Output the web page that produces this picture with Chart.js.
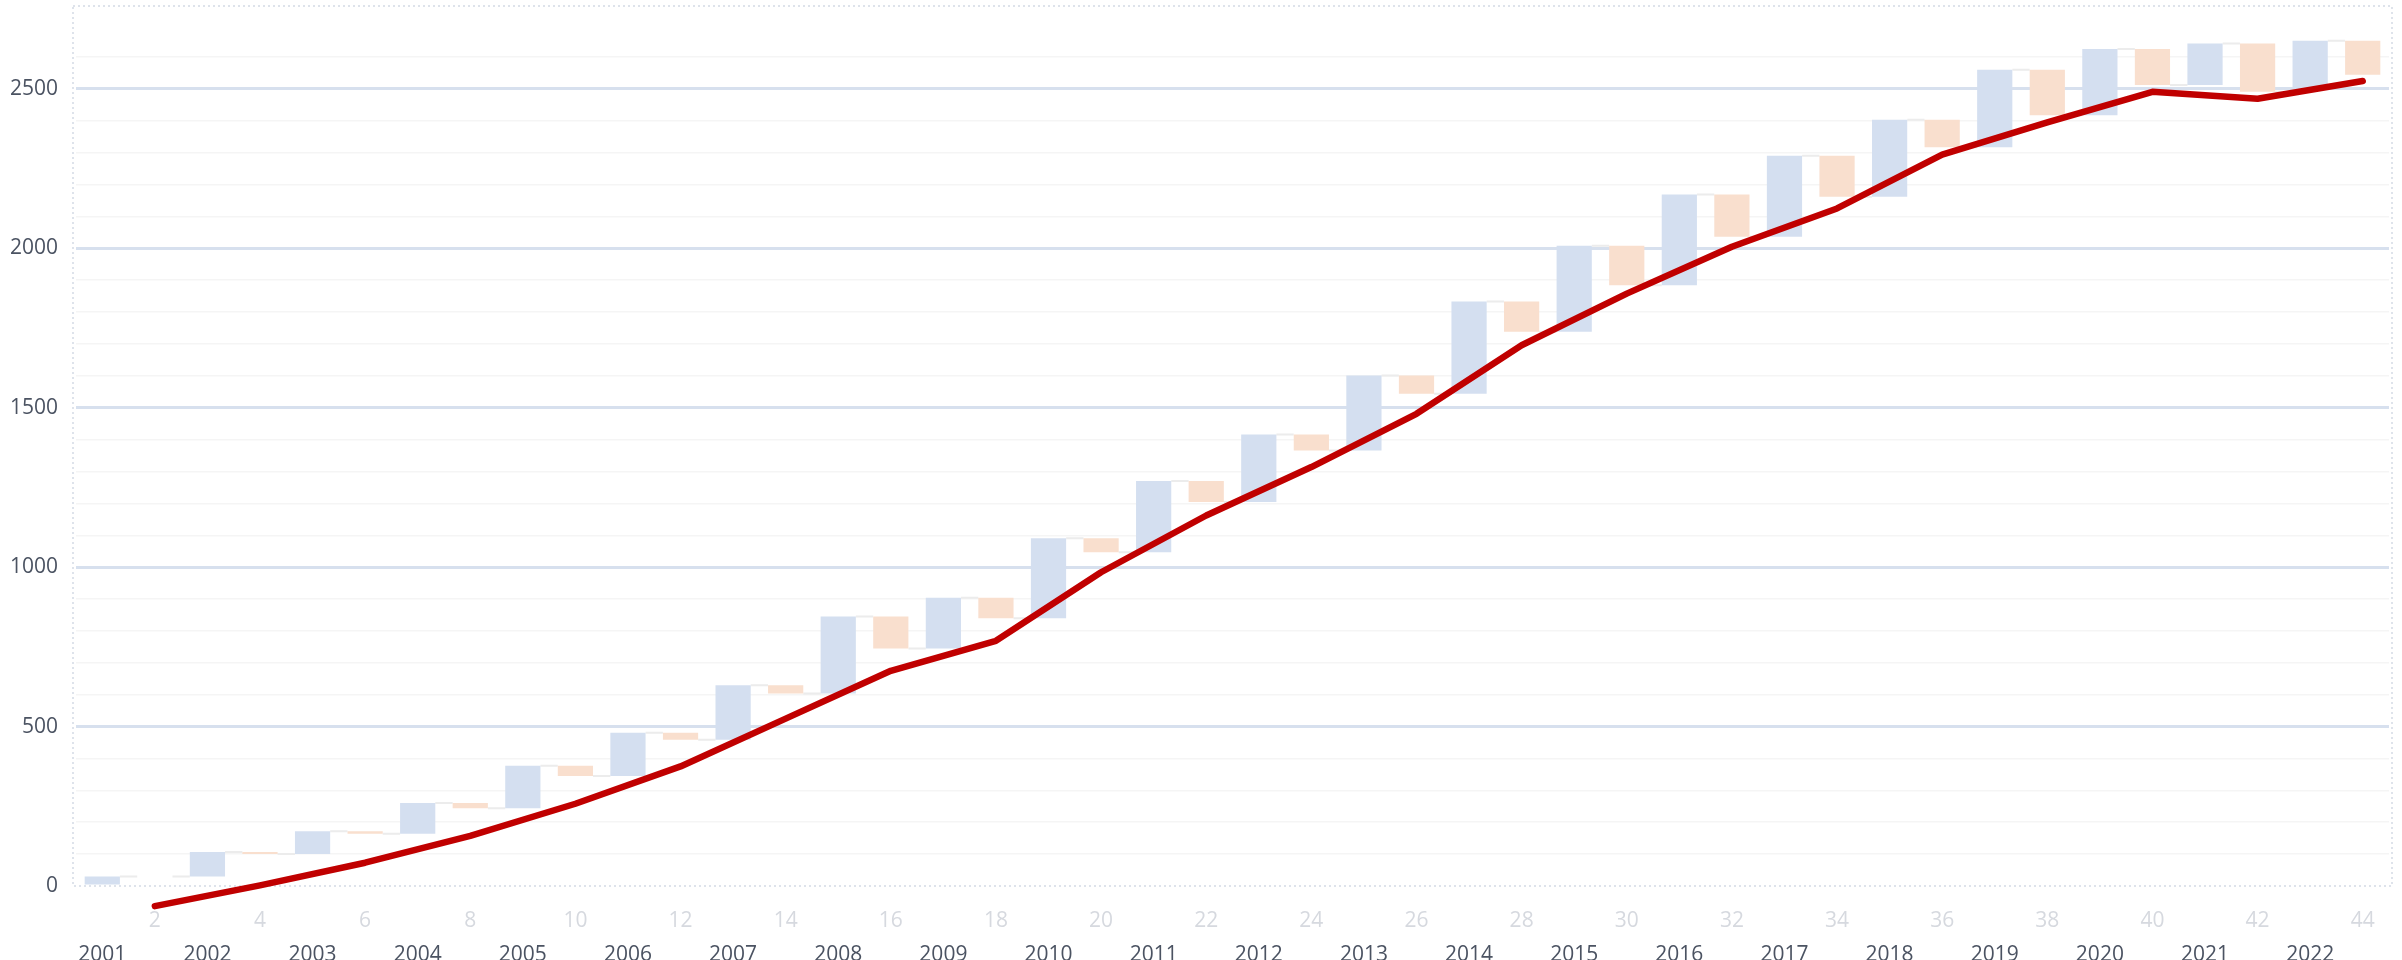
<!DOCTYPE html>
<html>
<head>
<meta charset="utf-8">
<script src="https://cdn.jsdelivr.net/npm/chart.js@4.4.1/dist/chart.umd.min.js"></script>
<style>
	body { margin: 0; background: #ffffff; }
	#wrap { width: 2402px; height: 960px; position: relative; }
</style>
</head>
<body>
<div id="wrap"><canvas id="waterfall"></canvas></div>
<script>
// two slots per year: odd slot = increase bar, even slot = decrease bar
var slots = ["1", "2", "3", "4", "5", "6", "7", "8", "9", "10", "11", "12", "13", "14", "15", "16", "17", "18", "19", "20", "21", "22",
	"23", "24", "25", "26", "27", "28", "29", "30", "31", "32", "33", "34", "35", "36", "37", "38", "39", "40", "41", "42", "43", "44"];
var years = ["2001", "2002", "2003", "2004", "2005", "2006", "2007", "2008", "2009", "2010", "2011",
	"2012", "2013", "2014", "2015", "2016", "2017", "2018", "2019", "2020", "2021", "2022"];

// blue bars (rise): from riseLow up to riseHigh
var riseLow = [0, 30, 100, 164, 244, 345, 459, 604, 745, 840, 1047, 1204, 1366, 1544, 1738, 1884, 2036, 2162, 2317, 2417, 2512, 2497];
var riseHigh = [30, 107, 172, 260, 377, 481, 630, 845, 904, 1091, 1270, 1416, 1601, 1833, 2008, 2169, 2290, 2403, 2560, 2625, 2642, 2651];
// orange bars (fall): from riseHigh down to fallLow
var fallLow = [30, 100, 164, 244, 345, 459, 604, 745, 840, 1047, 1204, 1366, 1544, 1738, 1884, 2036, 2162, 2317, 2417, 2512, 2491, 2544];
// red line, one point per year on the even slots
var trend = [-63, 2, 73, 157, 258, 375, 525, 675, 769, 984, 1162, 1314, 1481, 1696, 1858, 2005, 2125, 2294, 2395, 2491, 2469, 2525];

var yTicks = [0, 500, 1000, 1500, 2000, 2500];

var riseData = slots.map(function (s, i) {
	return i % 2 === 0 ? [riseLow[i / 2], riseHigh[i / 2]] : null;
});
var fallData = slots.map(function (s, i) {
	return i % 2 === 1 ? [fallLow[(i - 1) / 2], riseHigh[(i - 1) / 2]] : null;
});
var trendData = slots.map(function (s, i) {
	return i % 2 === 1 ? trend[(i - 1) / 2] : null;
});

// thin connectors between the floating bars + dotted frame
var waterfallExtras = {
	id: "waterfallExtras",
	beforeDatasetsDraw: function (chart) {
		var ctx = chart.ctx;
		var area = chart.chartArea;
		ctx.save();
		ctx.setLineDash([2, 3]);
		ctx.lineWidth = 1.5;
		ctx.strokeStyle = "#d3dae5";
		ctx.strokeRect(area.left - 3, area.top, area.right - area.left + 6, area.bottom - area.top);
		ctx.restore();

		var rise = chart.getDatasetMeta(0).data;
		var fall = chart.getDatasetMeta(1).data;
		ctx.save();
		ctx.strokeStyle = "#ececec";
		ctx.lineWidth = 2;
		ctx.beginPath();
		for (var i = 0; i < slots.length; i += 2) {
			var b = rise[i], o = fall[i + 1];
			if (!b || !o) continue;
			ctx.moveTo(b.x + b.width / 2, b.y);
			ctx.lineTo(o.x - o.width / 2, b.y);
			var nb = rise[i + 2];
			if (nb) {
				ctx.moveTo(o.x + o.width / 2, o.base);
				ctx.lineTo(nb.x - nb.width / 2, o.base);
			}
		}
		ctx.stroke();
		ctx.restore();
	},
};

Chart.defaults.font.family = "'Open Sans', 'Noto Sans', sans-serif";
Chart.defaults.font.size = 21;

var ctx = document.getElementById("waterfall");
var myChart = new Chart(ctx, {
	type: "bar",
	data: {
		labels: slots,
		datasets: [
			{
				label: "Rise",
				data: riseData,
				backgroundColor: "#d4dff0",
				borderWidth: 0,
				grouped: false,
				barPercentage: 0.67,
				categoryPercentage: 1,
				order: 2,
			},
			{
				label: "Fall",
				data: fallData,
				backgroundColor: "#f9dfce",
				borderWidth: 0,
				grouped: false,
				barPercentage: 0.67,
				categoryPercentage: 1,
				order: 2,
			},
			{
				type: "line",
				label: "Trend",
				data: trendData,
				borderColor: "#c00000",
				borderWidth: 6.5,
				borderCapStyle: "round",
				borderJoinStyle: "round",
				pointRadius: 0,
				spanGaps: true,
				clip: false,
				order: 0,
			},
		],
	},
	options: {
		animation: false,
		responsive: true,
		maintainAspectRatio: false,
		layout: {
			padding: { top: 6, right: 13, left: 0, bottom: 0 },
		},
		plugins: {
			legend: { display: false },
			tooltip: { enabled: false },
			title: { display: false },
		},
		scales: {
			x: {
				position: "bottom",
				grid: { display: false },
				border: { display: false },
				ticks: {
					autoSkip: false,
					maxRotation: 0,
					padding: 14,
					color: "#d6d9df",
					callback: function (val, idx) {
						return idx % 2 === 1 ? slots[idx] : "";
					},
				},
				afterFit: function (axis) {
					axis.height = 44;
				},
			},
			x2: {
				position: "bottom",
				grid: { display: false },
				border: { display: false },
				ticks: {
					autoSkip: false,
					maxRotation: 0,
					padding: 4,
					color: "#4b5362",
					callback: function (val, idx) {
						return idx % 2 === 0 ? years[idx / 2] : "";
					},
				},
				afterFit: function (axis) {
					axis.height = 30;
				},
			},
			y: {
				min: 0,
				max: 2760,
				border: { display: false },
				grid: {
					drawTicks: false,
					color: function (c) {
						var v = c.tick.value;
						if (v === 0 || v === 2760) return "rgba(0,0,0,0)";
						return yTicks.indexOf(v) >= 0 ? "#d7e0ee" : "#f5f5f5";
					},
					lineWidth: function (c) {
						return yTicks.indexOf(c.tick.value) >= 0 ? 3 : 1.5;
					},
				},
				ticks: {
					stepSize: 100,
					autoSkip: false,
					padding: 18,
					color: "#4b5362",
					callback: function (v) {
						return yTicks.indexOf(v) >= 0 ? v : "";
					},
				},
				afterFit: function (axis) {
					axis.width = 76;
					axis.paddingTop = 0;
					axis.paddingBottom = 0;
				},
			},
		},
	},
	plugins: [waterfallExtras],
});
</script>
</body>
</html>
